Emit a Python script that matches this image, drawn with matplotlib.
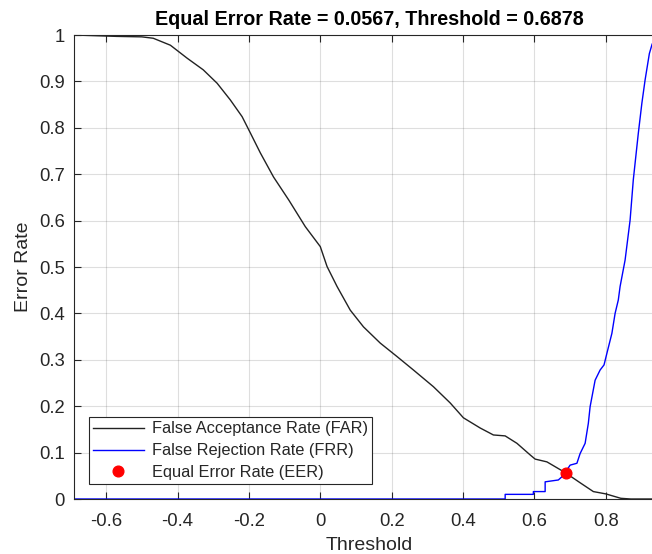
import matplotlib
matplotlib.use("Agg")
import matplotlib.pyplot as plt
from matplotlib.ticker import FixedLocator, FixedFormatter

plt.rcParams['font.family'] = ['Liberation Sans', 'DejaVu Sans']

# ---- data ----
far_x = [-0.69, -0.57, -0.50, -0.468, -0.42, -0.373, -0.328, -0.289, -0.252, -0.219,
         -0.196, -0.168, -0.131, -0.088, -0.042, 0.0, 0.019, 0.047, 0.084, 0.121,
         0.168, 0.215, 0.261, 0.317, 0.364, 0.401, 0.448, 0.485, 0.518, 0.551,
         0.588, 0.602, 0.635, 0.686, 0.728, 0.765, 0.80, 0.842, 0.87, 0.963]
far_y = [1.0, 0.997, 0.996, 0.993, 0.978, 0.950, 0.925, 0.896, 0.860, 0.824,
         0.789, 0.746, 0.694, 0.644, 0.587, 0.544, 0.501, 0.458, 0.407, 0.371,
         0.336, 0.307, 0.278, 0.242, 0.207, 0.175, 0.153, 0.138, 0.136, 0.120,
         0.095, 0.086, 0.080, 0.057, 0.035, 0.016, 0.011, 0.0015, 0.0, 0.0]

frr_x = [-0.69, 0.518, 0.518, 0.597, 0.597, 0.63, 0.63, 0.667, 0.68, 0.70,
         0.719, 0.728, 0.742, 0.751, 0.756, 0.77, 0.784, 0.795, 0.803, 0.817,
         0.826, 0.835, 0.840, 0.854, 0.868, 0.877, 0.891, 0.901, 0.910, 0.922,
         0.93, 0.963]
frr_y = [0.0, 0.0, 0.010, 0.010, 0.016, 0.016, 0.037, 0.041, 0.050, 0.073,
         0.077, 0.098, 0.120, 0.163, 0.199, 0.256, 0.278, 0.289, 0.314, 0.357,
         0.400, 0.429, 0.458, 0.515, 0.601, 0.688, 0.788, 0.853, 0.903, 0.960,
         0.981, 1.0]

eer_value = 0.0567
eer_threshold = 0.6878

x_ticks = [-0.6, -0.4, -0.2, 0, 0.2, 0.4, 0.6, 0.8]
x_tick_labels = ['-0.6', '-0.4', '-0.2', '0', '0.2', '0.4', '0.6', '0.8']
y_ticks = [0, 0.1, 0.2, 0.3, 0.4, 0.5, 0.6, 0.7, 0.8, 0.9, 1.0]
y_tick_labels = ['0', '0.1', '0.2', '0.3', '0.4', '0.5', '0.6', '0.7', '0.8', '0.9', '1']

# ---- figure ----
W, H = 652, 554
fig = plt.figure(figsize=(W / 100, H / 100), dpi=100)
ax = fig.add_axes([74 / W, (H - 499) / H, 590 / W, 464 / H])

axcol = '#262626'
ax.plot(far_x, far_y, color='#222222', lw=1.0, label='False Acceptance Rate (FAR)')
ax.plot(frr_x, frr_y, color='#0000ff', lw=1.0, label='False Rejection Rate (FRR)')
ax.plot([eer_threshold], [eer_value], 'o', color='#ff0000', markersize=7.7,
        linestyle='none', label='Equal Error Rate (EER)')

ax.set_xlim(-0.69, 0.963)
ax.set_ylim(0, 1)
ax.xaxis.set_major_locator(FixedLocator(x_ticks))
ax.xaxis.set_major_formatter(FixedFormatter(x_tick_labels))
ax.yaxis.set_major_locator(FixedLocator(y_ticks))
ax.yaxis.set_major_formatter(FixedFormatter(y_tick_labels))

ax.grid(True, color='#262626', alpha=0.15, lw=0.8)
ax.set_axisbelow(True)
ax.tick_params(direction='in', length=5, width=0.8, colors=axcol, labelsize=13.3,
               top=True, right=True, labelcolor=axcol)
ax.tick_params(axis='x', pad=10)
ax.tick_params(axis='y', pad=6.5)
for s in ax.spines.values():
    s.set_color(axcol)
    s.set_linewidth(0.8)

ax.set_xlabel('Threshold', fontsize=14, color=axcol, labelpad=5)
ax.set_ylabel('Error Rate', fontsize=14, color=axcol, labelpad=5)
ax.set_title('Equal Error Rate = 0.0567, Threshold = 0.6878', fontsize=14.2,
             fontweight='bold', color='black', pad=7)

leg = ax.legend(loc='lower left', fontsize=11.8, frameon=True, fancybox=False,
                edgecolor=axcol, framealpha=1, handlelength=3.1, handletextpad=0.5,
                labelspacing=0.42, borderpad=0.25, borderaxespad=0.9)
leg.get_frame().set_linewidth(0.8)
for t in leg.get_texts():
    t.set_color(axcol)

fig.savefig('out.png', dpi=100)
